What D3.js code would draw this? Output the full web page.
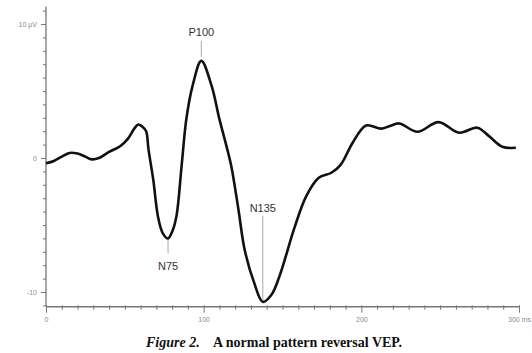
<!DOCTYPE html>
<html>
<head>
<meta charset="utf-8">
<script src="https://cdn.jsdelivr.net/npm/d3@7"></script>
<style>
  body { margin: 0; background: #fff; }
  .tick text { font-family: "Liberation Sans", Arial, sans-serif; font-size: 7px; fill: #8a8a8a; }
  .peak-label { font-family: "Liberation Sans", Arial, sans-serif; font-size: 11px; fill: #333; }
  .caption { font-family: "Liberation Serif", "Times New Roman", serif; font-size: 14px; font-weight: bold; fill: #111; }
</style>
</head>
<body>
<script>
// VEP trace: time (ms) and amplitude (µV)
const timeMs = [0, 5, 10, 15, 20, 25, 29, 34, 40, 47, 52, 56, 58.5, 61, 63.5, 65, 68, 71, 74, 77.4,
    80, 82.7, 86, 89, 93, 98.5, 105, 110, 115, 117.5, 122, 126, 132, 137.5, 143, 148, 157.6, 165,
    173, 181, 187, 194.5, 203, 212.5, 218, 224, 235.6, 249, 262, 273.6, 281, 289.4, 298];
const amplitude = [-0.4, -0.22, 0.1, 0.38, 0.33, 0.1, -0.1, 0.02, 0.45, 0.88, 1.45, 2.2, 2.5, 2.35, 2.0, 0.64, -1.6, -4.36, -5.6, -6.0,
    -5.5, -4.36, -0.6, 2.9, 5.4, 7.25, 5.4, 2.9, 0.64, -0.6, -3.8, -6.85, -9.3, -10.73, -10.2, -8.85, -5.2, -2.86,
    -1.48, -1.1, -0.49, 1.14, 2.43, 2.19, 2.38, 2.58, 1.96, 2.68, 1.89, 2.26, 1.63, 0.84, 0.76];

const peakNames = ["N75", "P100", "N135"];
const peakTimes = [77.4, 98.5, 137.5];
const peakValues = [-6.0, 7.25, -10.73];

const xTicks = d3.range(0, 301, 10);
const xTickLabels = {0: "0", 100: "100", 200: "200", 300: "300 ms"};
const yTicks = d3.range(-11, 12, 1);
const yTickLabels = {10: "10 µV", 0: "0", "-10": "-10"};

const width = 532, height = 353;

const svg = d3.select("body").append("svg")
    .attr("width", width)
    .attr("height", height);

const x = d3.scaleLinear().domain([0, 300]).range([46, 519]);
const y = d3.scaleLinear().domain([-10, 10]).range([292, 24]);

// y axis
const yAxis = d3.axisLeft(y)
    .tickValues(yTicks)
    .tickSize(3)
    .tickPadding(3)
    .tickFormat(d => yTickLabels[d] || "");
const gy = svg.append("g")
    .attr("transform", "translate(" + x(0) + ",0)")
    .call(yAxis);
gy.select(".domain").remove();
gy.selectAll(".tick line").attr("stroke", "#777");
gy.selectAll(".tick")
    .filter(d => yTickLabels[d] !== undefined)
    .select("line").attr("x2", -5);
gy.selectAll(".tick")
    .filter(d => yTickLabels[d] !== undefined)
    .select("text").attr("x", -9);
gy.append("line")
    .attr("x1", 0).attr("x2", 0)
    .attr("y1", y(11.3)).attr("y2", y(-11.1))
    .attr("stroke", "#777").attr("stroke-width", 1.3);

// x axis
const xAxis = d3.axisBottom(x)
    .tickValues(xTicks)
    .tickSize(3)
    .tickPadding(3)
    .tickFormat(d => xTickLabels[d] || "");
const gx = svg.append("g")
    .attr("transform", "translate(0," + y(-11.1) + ")")
    .call(xAxis);
gx.select(".domain").remove();
gx.selectAll(".tick line").attr("stroke", "#777").attr("y1", -1.5);
gx.selectAll(".tick")
    .filter(d => xTickLabels[d] !== undefined)
    .select("line").attr("y2", 6);
gx.selectAll(".tick text").attr("y", 10);
gx.append("line")
    .attr("x1", x(0)).attr("x2", x(300))
    .attr("y1", 0).attr("y2", 0)
    .attr("stroke", "#777").attr("stroke-width", 1.3);

// peak markers: N75 labelled below, the others above
peakNames.forEach((name, i) => {
    const px = x(peakTimes[i]), py = y(peakValues[i]);
    let y1, y2, ty;
    if (name === "N75") { y1 = py + 1; y2 = py + 15; ty = py + 32; }
    else if (name === "P100") { y1 = py - 4; y2 = py - 20; ty = py - 25; }
    else { y1 = py - 2; y2 = py - 86; ty = py - 90; }
    svg.append("line")
        .attr("x1", px).attr("x2", px)
        .attr("y1", y1).attr("y2", y2)
        .attr("stroke", "#aaa").attr("stroke-width", 1);
    svg.append("text")
        .classed("peak-label", true)
        .attr("x", px)
        .attr("y", ty)
        .attr("text-anchor", "middle")
        .text(name);
});

// trace
const points = timeMs.map((t, i) => [t, amplitude[i]]);
const line = d3.line()
    .x(d => x(d[0]))
    .y(d => y(d[1]))
    .curve(d3.curveCatmullRom.alpha(0.5));
svg.append("path")
    .datum(points)
    .attr("d", line)
    .attr("fill", "none")
    .attr("stroke", "#111")
    .attr("stroke-width", 2.6)
    .attr("stroke-linejoin", "round");

// caption
svg.append("text")
    .classed("caption", true)
    .attr("x", 146).attr("y", 347)
    .style("font-style", "italic")
    .text("Figure 2.");
svg.append("text")
    .classed("caption", true)
    .attr("x", 213).attr("y", 347)
    .text("A normal pattern reversal VEP.");
</script>
</body>
</html>
